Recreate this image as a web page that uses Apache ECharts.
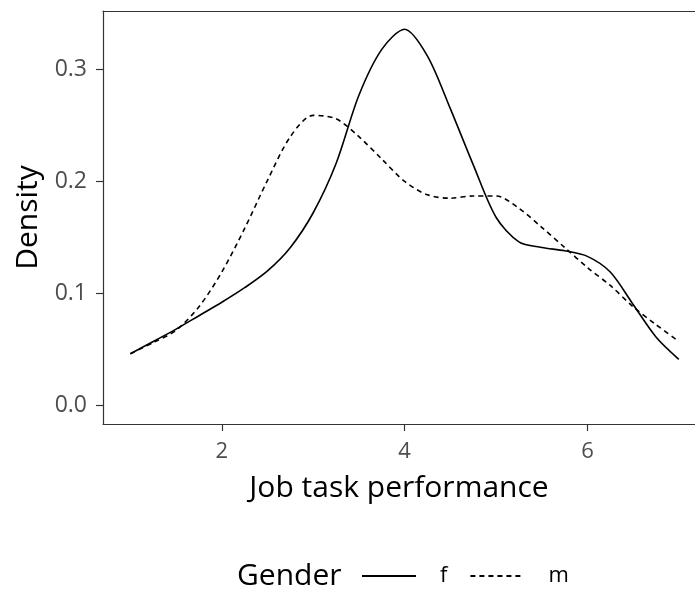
<!DOCTYPE html>
<html>
<head>
<meta charset="utf-8">
<script src="https://cdn.jsdelivr.net/npm/echarts@6/dist/echarts.min.js"></script>
<style>
html,body{margin:0;padding:0;background:#fff;}
#chart{width:695px;height:592px;}
</style>
</head>
<body>
<div id="chart"></div>
<script>
var xValues = [1.0,1.25,1.5,1.75,2.0,2.25,2.5,2.75,3.0,3.25,3.5,3.75,4.0,4.25,4.5,4.75,5.0,5.25,5.5,5.75,6.0,6.25,6.5,6.75,7.0];
var densityF = [0.046,0.057,0.068,0.080,0.092,0.105,0.120,0.141,0.172,0.216,0.277,0.318,0.336,0.312,0.265,0.215,0.168,0.146,0.141,0.138,0.133,0.119,0.090,0.061,0.041];
var densityM = [0.046,0.056,0.067,0.088,0.119,0.158,0.201,0.240,0.259,0.256,0.240,0.220,0.200,0.188,0.185,0.187,0.187,0.176,0.159,0.141,0.123,0.107,0.088,0.072,0.057];
var xTicks = [2,4,6];
var yTicks = [0.0,0.1,0.2,0.3];
var seriesNames = ['f','m'];

function pairs(xs, ys){ return xs.map(function(x,i){return [x, ys[i]];}); }

var chart = echarts.init(document.getElementById('chart'), null, {renderer:'canvas'});
var FONT = 'Open Sans';
var XMIN = 0.7, XMAX = 7.177;
chart.setOption({
  animation:false,
  backgroundColor:'#ffffff',
  grid:{left:103, top:11, right:0, bottom:168, show:false},
  xAxis:[{
    type:'value', min:XMIN, max:XMAX, position:'bottom',
    name:'Job task performance', nameLocation:'middle', nameGap:49,
    nameTextStyle:{fontFamily:FONT, fontSize:30, color:'#000'},
    axisLine:{show:true, onZero:false, lineStyle:{color:'#333', width:1.2}},
    axisTick:{show:true, length:7, lineStyle:{color:'#333', width:1.2}, customValues:xTicks},
    axisLabel:{fontFamily:FONT, fontSize:22, color:'#4d4d4d', margin:17, customValues:xTicks, formatter:function(v){return String(v);}},
    splitLine:{show:false}
  },{
    type:'value', min:XMIN, max:XMAX, position:'top',
    axisLine:{show:true, onZero:false, lineStyle:{color:'#333', width:1.2}},
    axisTick:{show:false}, axisLabel:{show:false}, splitLine:{show:false}
  }],
  yAxis:{
    type:'value', min:-0.0168, max:0.3523,
    name:'Density', nameLocation:'middle', nameGap:60,
    nameTextStyle:{fontFamily:FONT, fontSize:30, color:'#000'},
    axisLine:{show:true, onZero:false, lineStyle:{color:'#333', width:1.2}},
    axisTick:{show:true, length:7, lineStyle:{color:'#333', width:1.2}, customValues:yTicks},
    axisLabel:{fontFamily:FONT, fontSize:23, color:'#4d4d4d', margin:16, customValues:yTicks, formatter:function(v){return v.toFixed(1);}},
    splitLine:{show:false}
  },
  legend:{
    show:true, left:356, top:560, itemWidth:54, itemHeight:14, itemGap:22,
    data:seriesNames,
    itemStyle:{opacity:0},
    textStyle:{fontFamily:FONT, fontSize:22, color:'#000', padding:[0,0,0,19]}
  },
  graphic:[{type:'text', left:237, top:561, style:{text:'Gender', font:'30px "Open Sans"', fill:'#000'}}],
  series:[
    {name:seriesNames[0], type:'line', xAxisIndex:0, data:pairs(xValues, densityF), smooth:0.3, symbol:'none', lineStyle:{color:'#000', width:1.6, type:'solid'}, itemStyle:{color:'#000'}},
    {name:seriesNames[1], type:'line', xAxisIndex:0, data:pairs(xValues, densityM), smooth:0.3, symbol:'none', lineStyle:{color:'#000', width:1.6, type:[5,4]}, itemStyle:{color:'#000'}}
  ]
});
</script>
</body>
</html>
